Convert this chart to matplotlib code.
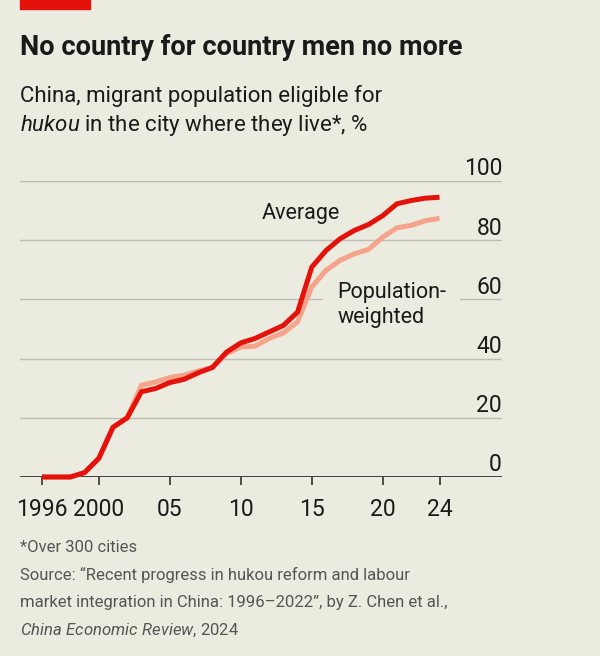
import matplotlib.pyplot as plt
import matplotlib.patches as patches

years = list(range(1996, 2025))
average = [0, 0, 0, 1.5, 6.3, 16.8, 20.0, 28.8, 29.9, 31.9, 33.0, 35.2, 37.0, 42.2,
           45.3, 46.8, 49.0, 51.2, 55.7, 70.9, 76.5, 80.5, 83.3, 85.3, 88.3, 92.3,
           93.4, 94.2, 94.5]
pop_weighted = [0, 0, 0, 1.5, 6.3, 16.8, 20.0, 31.0, 32.1, 33.6, 34.4, 35.8, 37.0, 41.7,
                43.9, 44.2, 46.8, 48.7, 52.4, 64.2, 69.8, 73.2, 75.4, 76.9, 81.0, 84.2,
                85.0, 86.6, 87.4]
yticks = [0, 20, 40, 60, 80, 100]
xticks = [1996, 2000, 2005, 2010, 2015, 2020, 2024]
xlabels = ["1996", "2000", "05", "10", "15", "20", "24"]

BG = "#ECEBDF"
RED = "#E3120B"
SALMON = "#F5A38B"
INK = "#1a1a1a"

plt.rcParams["font.family"] = ["Roboto", "DejaVu Sans"]
plt.rcParams["mathtext.fontset"] = "custom"
plt.rcParams["mathtext.rm"] = "Roboto"
plt.rcParams["mathtext.it"] = "Roboto:italic"

fig = plt.figure(figsize=(6, 6.56), dpi=100)
fig.patch.set_facecolor(BG)

# red tag top left
fig.patches.append(patches.Rectangle((20 / 600, 1 - 9 / 656), 70 / 600, 9 / 656,
                                     transform=fig.transFigure, color=RED, zorder=5))

fig.text(20 / 600, 1 - 55 / 656, "No country for country men no more",
         fontsize=19.5, fontweight="bold", color=INK, va="baseline")
fig.text(20 / 600, 1 - 102 / 656, "China, migrant population eligible for",
         fontsize=16, color=INK, va="baseline")
fig.text(20 / 600, 1 - 131 / 656, r"$\it{hukou}$ in the city where they live*, %",
         fontsize=16, color=INK, va="baseline")

ax = fig.add_axes([20 / 600, (656 - 477) / 656, 482 / 600, 296 / 656])
ax.set_facecolor(BG)
ax.set_xlim(1994.45, 2028.4)
ax.set_ylim(0, 100)
for s in ax.spines.values():
    s.set_visible(False)

for t in yticks:
    if t == 0:
        ax.axhline(0, color="#333333", lw=1.3, zorder=2)
    else:
        ax.axhline(t, color="#BDBDB5", lw=1.0, zorder=1)
    ax.text(1.0, t + 1.9, str(t), transform=ax.get_yaxis_transform(),
            ha="right", va="baseline", fontsize=16.5, color=INK)

ax.set_yticks([])
ax.set_xticks(xticks)
ax.set_xticklabels(xlabels, fontsize=16.5, color=INK)
ax.tick_params(axis="x", length=6, width=1.2, color="#333333", pad=9)

ax.plot(years, pop_weighted, color=SALMON, lw=3.6, solid_capstyle="butt",
        clip_on=False, zorder=3)
ax.plot(years, average, color=RED, lw=3.6, solid_capstyle="butt",
        clip_on=False, zorder=4)

ax.text(2011.5, 89, "Average", fontsize=15.5, color=INK, va="center", ha="left")
ax.text(2016.8, 58, "Population-\nweighted", fontsize=15.5, color=INK,
        va="center", ha="left", linespacing=1.25,
        bbox=dict(facecolor=BG, edgecolor="none", pad=10), zorder=2.5)

foot = "#555555"
fig.text(20 / 600, 1 - 552 / 656, "*Over 300 cities", fontsize=12, color=foot, va="baseline")
fig.text(20 / 600, 1 - 580 / 656,
         "Source: \u201cRecent progress in hukou reform and labour",
         fontsize=12, color=foot, va="baseline")
fig.text(20 / 600, 1 - 607 / 656,
         "market integration in China: 1996\u20132022\u201d, by Z. Chen et al.,",
         fontsize=12, color=foot, va="baseline")
fig.text(20 / 600, 1 - 635 / 656, r"$\it{China\ Economic\ Review}$, 2024",
         fontsize=12, color=foot, va="baseline")

fig.savefig("out.png", dpi=100, facecolor=BG)
